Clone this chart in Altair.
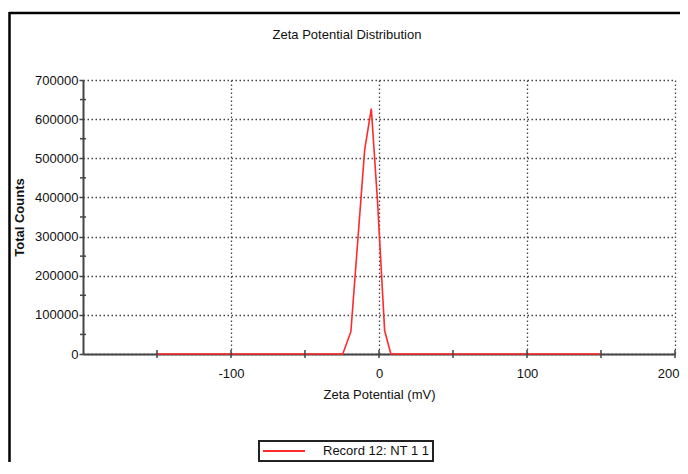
import altair as alt
import pandas as pd

# Data
zeta_mv = [-150, -24.5, -19.0, -9.7, -5.2, -1.0, 3.8, 8.0, 150]
total_counts = [0, 0, 57000, 521000, 627000, 390000, 60000, 0, 0]
series_name = "Record 12: NT 1 1"

x_label_values = [-100, 0, 100, 200]
x_tick_values = [-150, -100, -50, 0, 50, 100, 150, 200]
y_label_values = [0, 100000, 200000, 300000, 400000, 500000, 600000, 700000]
y_minor_values = [50000, 150000, 250000, 350000, 450000, 550000, 650000]

FONT = "Liberation Sans"
W, H = 592, 274
PAD_L, PAD_T, PAD_R, PAD_B = 75, 72, 5, 108

df = pd.DataFrame({"zeta": zeta_mv, "counts": total_counts, "series": series_name})
xt = pd.DataFrame({"v": x_tick_values})
ym = pd.DataFrame({"v": y_minor_values})

xscale = alt.Scale(domain=[-200, 200], nice=False, zero=False)
yscale = alt.Scale(domain=[0, 700000], nice=False)

x_axis = alt.Axis(values=x_label_values, ticks=False, labelPadding=13,
                  labelExpr="datum.value + ''", labelOverlap=False,
                  labelAlign=alt.condition("datum.value == 200", alt.value("right"), alt.value("center")),
                  labelOffset=alt.condition("datum.value == 200", alt.value(4), alt.value(0)),
                  titlePadding=8, grid=True, gridDash=[1.5, 2.5],
                  gridColor="#444", gridWidth=1.3,
                  domainColor="#444", domainWidth=2,
                  labelFlush=False, labelBound=False)
y_axis = alt.Axis(values=y_label_values, labelExpr="datum.value + ''",
                  labelOverlap=False, tickSize=4,
                  tickColor="#444", tickWidth=1.5, labelPadding=1,
                  titlePadding=8, grid=True, gridDash=[1.5, 2.5],
                  gridColor="#444", gridWidth=1.3,
                  domainColor="#444", domainWidth=2,
                  titleFontWeight="bold")
X_TITLE = "Zeta Potential (mV)"
Y_TITLE = "Total Counts"

line = alt.Chart(df).mark_line(strokeWidth=1.6, clip=False).encode(
    x=alt.X("zeta:Q", scale=xscale, title=X_TITLE, axis=x_axis),
    y=alt.Y("counts:Q", scale=yscale, title=Y_TITLE, axis=y_axis),
    color=alt.Color("series:N", scale=alt.Scale(range=["#ff2a2a"]),
                    legend=alt.Legend(title=None, orient="none", legendX=176,
                                      legendY=361,
                                      symbolType="M-1,0H6",
                                      symbolSize=144, symbolStrokeWidth=2,
                                      labelOffset=47, padding=3,
                                      strokeColor="#222", fillColor="white",
                                      labelFontSize=13, labelFont=FONT,
                                      labelColor="#111")),
)

xticks = alt.Chart(xt).mark_rule(color="#444", strokeWidth=1.5).encode(
    x=alt.X("v:Q", scale=xscale, title=X_TITLE, axis=x_axis),
    y=alt.value(H - 4),
    y2=alt.value(H + 4),
)

yminor = alt.Chart(ym).mark_rule(color="#444", strokeWidth=1.5).encode(
    y=alt.Y("v:Q", scale=yscale, title=Y_TITLE, axis=y_axis),
    x=alt.value(-3),
    x2=alt.value(3),
)

title = alt.Chart(pd.DataFrame({"t": ["Zeta Potential Distribution"]})).mark_text(
    font=FONT, fontSize=13, color="#111", align="center", baseline="middle"
).encode(text="t:N", x=alt.value(264), y=alt.value(-45))

border_top = alt.Chart(pd.DataFrame({"a": [0]})).mark_rule(color="black", strokeWidth=2.5).encode(
    x=alt.value(-74), x2=alt.value(W + PAD_R), y=alt.value(-67)
)
border_left = alt.Chart(pd.DataFrame({"a": [0]})).mark_rule(color="black", strokeWidth=2.5).encode(
    x=alt.value(-73.5), y=alt.value(-68), y2=alt.value(H + PAD_B)
)

chart = alt.layer(line, xticks, yminor, title, border_top, border_left).properties(
    width=W, height=H,
    autosize=alt.AutoSizeParams(type="none"),
    padding={"left": PAD_L, "top": PAD_T, "right": PAD_R, "bottom": PAD_B},
    background="white",
).configure_view(stroke=None).configure_axis(
    labelFont=FONT, labelFontSize=13, labelColor="#111",
    titleFont=FONT, titleFontSize=13, titleColor="#111", titleFontWeight="normal",
).configure_legend(strokeWidth=2)

chart.save("out.html", embed_options={"renderer": "svg", "actions": False})
